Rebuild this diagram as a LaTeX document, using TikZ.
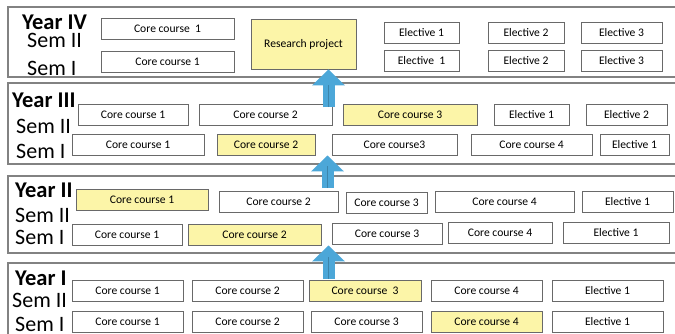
\documentclass[tikz,border=0pt]{standalone}
\usepackage{fontspec}
\setmainfont{Carlito}
\usetikzlibrary{arrows.meta,calc}
\definecolor{framegray}{RGB}{130,130,130}
\definecolor{boxgray}{RGB}{105,105,105}
\definecolor{coreyellow}{RGB}{252,245,168}
\definecolor{uparrow}{RGB}{76,167,216}

\begin{document}
\begin{tikzpicture}[x=1pt,y=-1pt,
  course/.style={draw=boxgray,line width=0.9pt,fill=white,inner sep=0pt,minimum height=21pt,font=\fontsize{11.6}{13}\selectfont},
  core/.style={course,fill=coreyellow},
  frame/.style={draw=framegray,line width=1.3pt},
  yearlbl/.style={anchor=base west,inner sep=0pt,font=\fontsize{22.5}{22}\selectfont\bfseries},
  semlbl/.style={anchor=base west,inner sep=0pt,font=\fontsize{22}{22}\selectfont},
  climb/.style={uparrow,line width=12pt,-{Triangle[width=32pt,length=16pt]}}]
\useasboundingbox(0,0)rectangle(675,333);
\clip(0,0)rectangle(675,333);
% year frames
\draw[frame](8,7)rectangle(690,77);
\draw[frame](8,83)rectangle(690,164);
\draw[frame](8,176)rectangle(690,253);
\draw[frame](8,263)rectangle(690,350);
% labels
\node[yearlbl](y4)at(22,29){Year IV};
\node[semlbl](y4s2)at(27,47){Sem II};
\node[semlbl](y4s1)at(27,75){Sem I};
\node[yearlbl](y3)at(12,107){Year III};
\node[semlbl](y3s2)at(16,133){Sem II};
\node[semlbl](y3s1)at(16,158){Sem I};
\node[yearlbl](y2)at(15,197){Year II};
\node[semlbl](y2s2)at(15,222){Sem II};
\node[semlbl](y2s1)at(15,244){Sem I};
\node[yearlbl](y1)at(15,285){Year I};
\node[semlbl](y1s2)at(12,307){Sem II};
\node[semlbl](y1s1)at(15,331){Sem I};
% year IV
\node[core,minimum width=105,minimum height=50](rp)at(303.5,44){Research project};
\foreach \n/\x/\y/\w/\s/\t in {y4s2c1/167.5/28.5/133/course/Core course~~1,
  y4s1c1/167.5/61.5/133/course/Core course 1,
  y4s2e1/421.5/32.5/75/course/Elective 1,y4s2e2/526/32.5/76/course/Elective 2,
  y4s2e3/621.5/32.5/81/course/Elective 3,y4s1e1/421.5/60.5/75/course/Elective~~1,
  y4s1e2/526/60.5/76/course/Elective 2,y4s1e3/621.5/60.5/81/course/Elective 3}
\node[\s,minimum width=\w](\n)at(\x,\y){\t};
% year III
\foreach \n/\x/\y/\w/\s/\t in {y3s2c1/133/114.5/110/course/Core course 1,
  y3s2c2/265.5/114.5/133/course/Core course 2,y3s2c3/410/115/134/core/Core course 3,
  y3s2e1/531.5/115/75/course/Elective 1,y3s2e2/626.5/115/81/course/Elective 2,
  y3s1c1/138/144.5/132/course/Core course 1,y3s1c2/266/144.5/98/core/Core course 2,
  y3s1c3/394.5/144.5/125/course/Core course3,y3s1c4/531.5/144.5/121/course/Core course 4,
  y3s1e1/634.5/144.5/69/course/Elective 1}
\node[\s,minimum width=\w](\n)at(\x,\y){\t};
% year II
\foreach \n/\x/\y/\w/\s/\t in {y2s2c1/142/200/132/core/Core course 1,
  y2s2c2/278.5/202/119/course/Core course 2,y2s2c3/386.5/202.5/81/course/Core course 3,
  y2s2c4/504.5/202/139/course/Core course 4,y2s2e1/627.5/202/91/course/Elective 1,
  y2s1c1/127/235/110/course/Core course 1,y2s1c2/254.5/234.5/133/core/Core course 2,
  y2s1c3/387/233.5/110/course/Core course 3,y2s1c4/500/232.5/104/course/Core course 4,
  y2s1e1/616/233/106/course/Elective 1}
\node[\s,minimum width=\w](\n)at(\x,\y){\t};
% year I
\foreach \n/\x/\y/\w/\s/\t in {y1s2c1/127.5/291/111/course/Core course 1,
  y1s2c2/247.5/291/111/course/Core course 2,y1s2c3/365/291/112/core/Core course~~3,
  y1s2c4/486.5/291/111/course/Core course 4,y1s2e1/607.5/291/111/course/Elective 1,
  y1s1c1/127.5/321.5/111/course/Core course 1,y1s1c2/247.5/321.5/111/course/Core course 2,
  y1s1c3/366.5/321.5/111/course/Core course 3,y1s1c4/486.5/321.5/111/core/Core course 4,
  y1s1e1/607.5/321.5/111/course/Elective 1}
\node[\s,minimum width=\w](\n)at(\x,\y){\t};
% arrows between years
\coordinate(a4)at(328.5,107);
\coordinate(a3)at(327.5,188);
\coordinate(a2)at(328.5,279);
\draw[climb](a4)--(a4|-rp.south);
\draw[climb](a3)--(a3|-y3s1c2.south);
\draw[climb](a2)--(a2|-y2s1c2.south);
\foreach \a in {a4,a3,a2}
\draw[uparrow!60!black,line width=0.4pt,opacity=0.5](\a)--++(0,-22);
\end{tikzpicture}
\end{document}
